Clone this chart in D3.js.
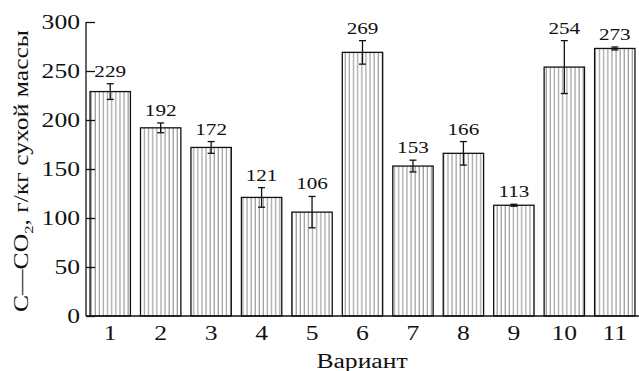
<!DOCTYPE html>
<html>
<head>
<meta charset="utf-8">
<script src="https://cdn.jsdelivr.net/npm/d3@7"></script>
<style>
  body { margin: 0; background: #fff; }
  svg { display: block; }
  text { font-family: "Liberation Serif", "DejaVu Serif", serif; fill: #111; }
</style>
</head>
<body>
<svg id="chart" width="639" height="371"></svg>
<script>
// variant numbers, means and error half-widths
const variants = ['1', '2', '3', '4', '5', '6', '7', '8', '9', '10', '11'];
const values = [229, 192, 172, 121, 106, 269, 153, 166, 113, 254, 273];
const errors = [8, 5, 6, 10, 16, 12, 6, 12, 1, 27, 1.5];
const yTicks = [0, 50, 100, 150, 200, 250, 300];

// the source figure is stretched sideways, so glyphs get widened
const stretch = 1.28;

const svg = d3.select('#chart');

const x = d3.scaleBand()
    .domain(variants)
    .range([85, 640])
    .paddingInner(0.2)
    .paddingOuter(0.1);

const y = d3.scaleLinear()
    .domain([0, 300])
    .range([316, 22]);

// vertical hatching for the bars
const pat = svg.append('defs').append('pattern')
    .attr('id', 'hatch')
    .attr('patternUnits', 'userSpaceOnUse')
    .attr('width', 4.1)
    .attr('height', 10);
pat.append('rect').attr('width', 4.1).attr('height', 10).attr('fill', '#fff');
pat.append('line')
    .attr('x1', 1).attr('x2', 1)
    .attr('y1', 0).attr('y2', 10)
    .attr('stroke', '#8a8a8a')
    .attr('stroke-width', 1);

const data = variants.map((v, i) => ({ v, value: values[i], err: errors[i] }));

// bars
svg.append('g').selectAll('rect')
    .data(data)
    .join('rect')
    .attr('x', (d) => x(d.v))
    .attr('y', (d) => y(d.value))
    .attr('width', x.bandwidth())
    .attr('height', (d) => y(0) - y(d.value))
    .attr('fill', 'url(#hatch)')
    .attr('stroke', '#111')
    .attr('stroke-width', 1.3);

// error bars
const eb = svg.append('g')
    .attr('stroke', '#111')
    .attr('stroke-width', 1.3)
    .selectAll('g')
    .data(data)
    .join('g')
    .attr('transform', (d) => `translate(${x(d.v) + x.bandwidth() / 2},0)`);

eb.append('line')
    .attr('y1', (d) => y(d.value + d.err))
    .attr('y2', (d) => y(d.value - d.err));
eb.append('line')
    .attr('x1', -3.5).attr('x2', 3.5)
    .attr('y1', (d) => y(d.value + d.err))
    .attr('y2', (d) => y(d.value + d.err));
eb.append('line')
    .attr('x1', -3.5).attr('x2', 3.5)
    .attr('y1', (d) => y(d.value - d.err))
    .attr('y2', (d) => y(d.value - d.err));

// value labels
svg.append('g').selectAll('text')
    .data(data)
    .join('text')
    .attr('class', 'wide')
    .attr('x', (d) => x(d.v) + x.bandwidth() / 2)
    .attr('y', (d) => y(d.value + d.err) - 7)
    .attr('text-anchor', 'middle')
    .style('font-size', '16.5px')
    .text((d) => d.value);

// y axis, ticks pointing into the plot
const yAxis = svg.append('g')
    .attr('transform', 'translate(86,0)')
    .call(d3.axisLeft(y).tickValues(yTicks).tickSize(-9).tickPadding(6));
yAxis.select('.domain').attr('d', `M0,${y(300)}V${y(0)}`);
yAxis.selectAll('path, line').attr('stroke', '#111').attr('stroke-width', 1.3);
yAxis.selectAll('text').attr('class', 'wide').style('font-size', '20px').attr('fill', '#111');

// x axis
const xAxis = svg.append('g')
    .attr('transform', `translate(0,${y(0)})`)
    .call(d3.axisBottom(x).tickSize(0).tickPadding(10));
xAxis.select('.domain').attr('d', 'M86,0H639');
xAxis.selectAll('path').attr('stroke', '#111').attr('stroke-width', 1.3);
xAxis.selectAll('text').attr('class', 'wide').style('font-size', '20px').attr('fill', '#111');

// axis titles
svg.append('text')
    .attr('class', 'wide')
    .attr('x', 362)
    .attr('y', 368)
    .attr('text-anchor', 'middle')
    .style('font-size', '20px')
    .text('Вариант');

const yt = svg.append('text')
    .attr('transform', `translate(28,171) rotate(-90) scale(${stretch},1)`)
    .attr('text-anchor', 'middle')
    .style('font-size', '20px');
yt.append('tspan').text('C—CO');
yt.append('tspan').attr('dy', 5).style('font-size', '13px').text('2');
yt.append('tspan').attr('dy', -5).text(', г/кг сухой массы');

// widen single-run labels
svg.selectAll('text.wide').each(function () {
    const w = this.getComputedTextLength();
    d3.select(this)
        .attr('textLength', w * stretch)
        .attr('lengthAdjust', 'spacingAndGlyphs');
});
</script>
</body>
</html>
